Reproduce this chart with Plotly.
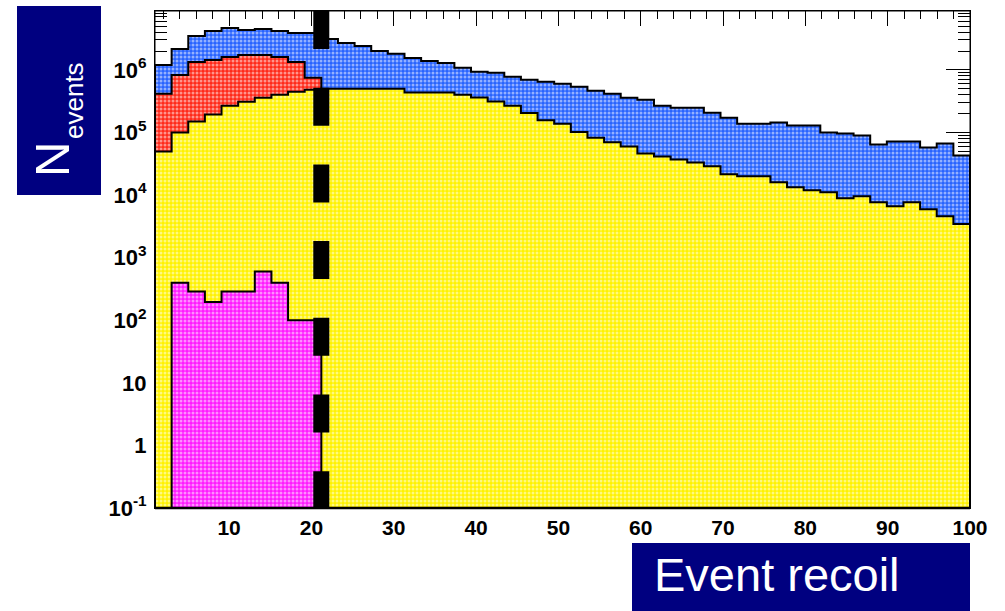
import numpy as np
import plotly.graph_objects as go

# ---------------- data ----------------
x_min, x_max, n_bins = 1.0, 100.0, 49
cut_value = 21.2  # dashed cut line position

# stacked totals (top of each visible layer), one entry per bin
blue_total = [1.20e6, 2.16e6, 3.47e6, 4.17e6, 4.66e6, 4.33e6, 4.49e6, 4.17e6, 3.87e6, 3.87e6,
              3.11e6, 2.68e6, 2.41e6, 2.00e6, 1.80e6, 1.55e6, 1.39e6, 1.29e6, 1.08e6, 9.3e5,
              8.96e5, 7.74e5, 6.94e5, 6.44e5, 5.99e5, 5.37e5, 4.63e5, 4.15e5, 3.59e5, 3.33e5,
              2.68e5, 2.49e5, 2.49e5, 2.07e5, 1.72e5, 1.38e5, 1.38e5, 1.44e5, 1.29e5, 1.29e5,
              9.96e4, 9.6e4, 8.93e4, 6.43e4, 7.17e4, 7.17e4, 5.75e4, 6.67e4, 4.30e4]
red_total = [4.15e5, 8.3e5, 1.34e6, 1.44e6, 1.61e6, 1.73e6, 1.73e6, 1.61e6, 1.34e6, 7.46e5]
yellow_total = [4.97e4, 9.96e4, 1.49e5, 1.93e5, 2.68e5, 3.10e5, 3.59e5, 4.01e5, 4.47e5, 4.81e5,
                4.99e5, 4.99e5, 4.99e5, 4.99e5, 4.99e5, 4.36e5, 4.36e5, 4.36e5, 4.01e5, 3.63e5,
                3.13e5, 2.68e5, 2.05e5, 1.56e5, 1.38e5, 1.02e5, 8.2e4, 6.98e4, 5.97e4, 4.62e4,
                4.14e4, 3.71e4, 3.32e4, 2.87e4, 2.14e4, 1.99e4, 1.99e4, 1.60e4, 1.33e4, 1.19e4,
                1.11e4, 8.9e3, 9.57e3, 7.69e3, 6.64e3, 7.69e3, 5.94e3, 4.60e3, 3.43e3]
magenta_counts = [0, 398, 288, 195, 288, 288, 600, 398, 100, 100]

x_tick_vals = [10, 20, 30, 40, 50, 60, 70, 80, 90, 100]
x_tick_text = ["10", "20", "30", "40", "50", "60", "70", "80", "90", "100"]
y_tick_vals = [0.1, 1, 10, 100, 1e3, 1e4, 1e5, 1e6]
y_tick_text = ["10<sup>-1</sup>", "1", "10", "10<sup>2</sup>", "10<sup>3</sup>",
               "10<sup>4</sup>", "10<sup>5</sup>", "10<sup>6</sup>"]
y_label = "N"
y_label_sub = "events"
x_label = "Event recoil"

# ---------------- geometry helpers ----------------
W, H = 1005, 611
L, R, T, B = 155, 970, 11, 508          # plot area in pixels


def px2x(px):
    return (px - L) / (R - L)


def py2y(py):
    return (B - py) / (B - T)


edges = np.linspace(x_min, x_max, n_bins + 1)
BASE = 1e-3


def step_poly(vals):
    vals = list(vals)
    idx = [i for i, v in enumerate(vals) if v > 0]
    i0, i1 = idx[0], idx[-1]
    xs, ys = [edges[i0]], [BASE]
    for i in range(i0, i1 + 1):
        xs.append(edges[i])
        ys.append(vals[i])
    xs += [edges[i1 + 1], edges[i1 + 1]]
    ys += [vals[i1], BASE]
    return xs, ys


fig = go.Figure()

layers = [
    (blue_total, "#2863ff"),
    (red_total, "#ff2a1a"),
    (yellow_total, "#fff200"),
    (magenta_counts, "#ff1aff"),
]
for vals, col in layers:
    xs, ys = step_poly(vals)
    fig.add_trace(go.Scatter(
        x=xs, y=ys, mode="lines", line=dict(color="black", width=2, shape="hv"),
        fill="toself", fillcolor=col,
        fillpattern=dict(shape=".", bgcolor=col, fgcolor="white", size=4, solidity=0.45),
        hoverinfo="skip", showlegend=False))

minor_x = [v for v in range(2, 100, 2) if v % 10 != 0]
minor_y = [m * 10 ** e for e in range(-1, 7) for m in range(2, 10)]

tick_font = dict(family="Liberation Sans", size=21, color="black", weight="bold")
fig.update_layout(
    width=W, height=H, margin=dict(l=L, r=W - R, t=T, b=H - B),
    paper_bgcolor="white", plot_bgcolor="white",
    xaxis=dict(range=[x_min, x_max], tickvals=x_tick_vals, ticktext=x_tick_text,
               ticks="inside", ticklen=15, tickwidth=1, tickcolor="black",
               showline=True, linecolor="black", linewidth=1, mirror="ticks",
               showgrid=False, zeroline=False, layer="below traces",
               tickfont=tick_font, ticklabelstandoff=1,
               minor=dict(tickvals=minor_x, ticks="inside", ticklen=8, tickcolor="black", showgrid=False)),
    yaxis=dict(type="log", range=[-1, 6.94], tickvals=y_tick_vals, ticktext=y_tick_text,
               ticks="inside", ticklen=24, tickwidth=1, tickcolor="black",
               showline=True, linecolor="black", linewidth=1, mirror="ticks",
               showgrid=False, zeroline=False, layer="below traces",
               tickfont=dict(family="Liberation Sans", size=22, color="black", weight="bold"),
               ticklabelstandoff=3,
               minor=dict(tickvals=minor_y, ticks="inside", ticklen=12, tickcolor="black", showgrid=False)),
    showlegend=False,
)

shapes = [
    # frame
    dict(type="rect", xref="paper", yref="paper", x0=0, x1=1, y0=0, y1=1,
         line=dict(color="black", width=1), layer="above"),
    dict(type="line", xref="paper", yref="paper", x0=0, x1=1, y0=0, y1=0,
         line=dict(color="black", width=2.5), layer="above"),
    # cut line
    dict(type="line", xref="x", yref="paper", x0=cut_value, x1=cut_value, y0=1, y1=0,
         line=dict(color="black", width=16, dash="38px,38.7px"), layer="above"),
    # label boxes
    dict(type="rect", xref="paper", yref="paper", x0=px2x(17), x1=px2x(101),
         y0=py2y(195), y1=py2y(6), fillcolor="#000080", line=dict(width=0), layer="above"),
    dict(type="rect", xref="paper", yref="paper", x0=px2x(632), x1=px2x(970),
         y0=py2y(611), y1=py2y(543), fillcolor="#000080", line=dict(width=0), layer="above"),
]
fig.update_layout(shapes=shapes)

fig.add_annotation(x=px2x(52), y=py2y(160), xref="paper", yref="paper", text=y_label,
                   textangle=-90, showarrow=False, xanchor="center", yanchor="middle",
                   font=dict(family="Liberation Sans", size=49, color="white"))
fig.add_annotation(x=px2x(74), y=py2y(101), xref="paper", yref="paper", text=y_label_sub,
                   textangle=-90, showarrow=False, xanchor="center", yanchor="middle",
                   font=dict(family="Liberation Sans", size=26, color="white"))
fig.add_annotation(x=px2x(652), y=py2y(575), xref="paper", yref="paper", text=x_label,
                   xanchor="left", yanchor="middle", showarrow=False,
                   font=dict(family="Liberation Sans", size=47, color="white"))

fig.write_html("out.html")
